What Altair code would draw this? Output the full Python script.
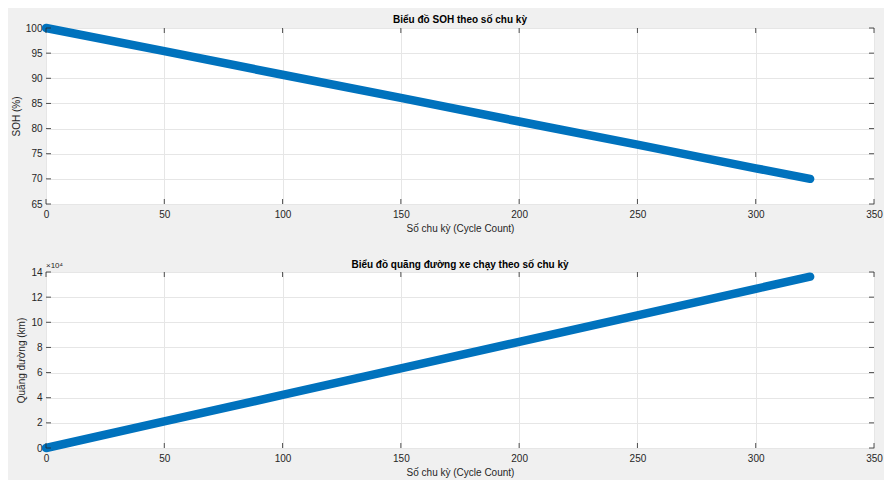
import altair as alt
import pandas as pd

# Data (linear trends, points read at tick positions)
cycles = [0, 50, 100, 150, 200, 250, 300, 323]
soh = [100.0, 95.4, 90.7, 86.1, 81.4, 76.8, 72.1, 70.0]
distance_km = [0, 21100, 42200, 63300, 84400, 105500, 126600, 136300]

x_ticks = [0, 50, 100, 150, 200, 250, 300, 350]
soh_ticks = [65, 70, 75, 80, 85, 90, 95, 100]
dist_ticks = [0, 20000, 40000, 60000, 80000, 100000, 120000, 140000]

W, H = 828, 176
BLUE = "#0072BD"
FONT = "Liberation Sans"
TXT = "#262626"

df = pd.DataFrame({"cycle": cycles, "soh": soh, "dist": distance_km})
xt = pd.DataFrame({"t": x_ticks})


def panel(yfield, ytitle, ydomain, yticks, label_expr=None):
    xs = alt.Scale(domain=[0, 350], nice=False, zero=False)
    ys = alt.Scale(domain=ydomain, nice=False, zero=False)
    yaxis_kw = dict(values=yticks, ticks=False, labelPadding=4, title=ytitle,
                    titlePadding=4, grid=True, labelOverlap=False, labelFlush=False)
    if label_expr:
        yaxis_kw["labelExpr"] = label_expr
    yax = alt.Axis(**yaxis_kw)
    xax = alt.Axis(values=x_ticks, ticks=False, labelPadding=5,
                   labelOverlap=False, labelFlush=False,
                   title="Số chu kỳ (Cycle Count)", titlePadding=4, grid=True)
    line = alt.Chart(df).mark_line(color=BLUE, strokeWidth=8.5, strokeCap="round",
                                   strokeJoin="round").encode(
        x=alt.X("cycle:Q", scale=xs, axis=xax),
        y=alt.Y(f"{yfield}:Q", scale=ys, axis=yax),
    )
    yt = pd.DataFrame({"t": yticks})
    bt = alt.Chart(xt).mark_rule(color=TXT, strokeWidth=0.8).encode(
        x=alt.X("t:Q", scale=xs, axis=xax), y=alt.value(H), y2=alt.value(H - 5))
    tt = alt.Chart(xt).mark_rule(color=TXT, strokeWidth=0.8).encode(
        x=alt.X("t:Q", scale=xs, axis=xax), y=alt.value(0), y2=alt.value(5))
    lt = alt.Chart(yt).mark_rule(color=TXT, strokeWidth=0.8).encode(
        y=alt.Y("t:Q", scale=ys, axis=yax), x=alt.value(0), x2=alt.value(5))
    rt = alt.Chart(yt).mark_rule(color=TXT, strokeWidth=0.8).encode(
        y=alt.Y("t:Q", scale=ys, axis=yax), x=alt.value(W), x2=alt.value(W - 5))
    return [line, bt, tt, lt, rt]


def title(t, off):
    return alt.TitleParams(t, fontWeight="bold", fontSize=10, font=FONT,
                           color="#000000", offset=off, anchor="middle")


p1 = alt.layer(*panel("soh", "SOH (%)", [65, 100], soh_ticks)).properties(
    width=W, height=H, title=title("Biểu đồ SOH theo số chu kỳ", -2))

exp_df = pd.DataFrame({"txt": ["×10⁴"]})
exp_text = alt.Chart(exp_df).mark_text(align="left", baseline="bottom", fontSize=8,
                                       font=FONT, color=TXT).encode(
    text="txt:N", x=alt.value(0), y=alt.value(-2))
p2 = alt.layer(*panel("dist", "Quãng đường (km)", [0, 140000], dist_ticks,
                      label_expr="format(datum.value/10000, 'd')"), exp_text).properties(
    width=W, height=H, title=title("Biểu đồ quãng đường xe chạy theo số chu kỳ", -8))

chart = alt.vconcat(p1, p2, spacing=25).properties(
    background="#f0f0f0",
    padding={"left": 2, "top": 6, "right": 1, "bottom": 5},
).configure_view(stroke="#8c8c8c", strokeWidth=1, fill="#ffffff").configure_axis(
    labelFont=FONT, titleFont=FONT, labelFontSize=10, titleFontSize=10,
    labelColor=TXT, titleColor=TXT, domain=False, gridColor="#e6e6e6",
    titleFontWeight="normal",
)

chart.save("out.html", embed_options={"renderer": "svg", "actions": False})
